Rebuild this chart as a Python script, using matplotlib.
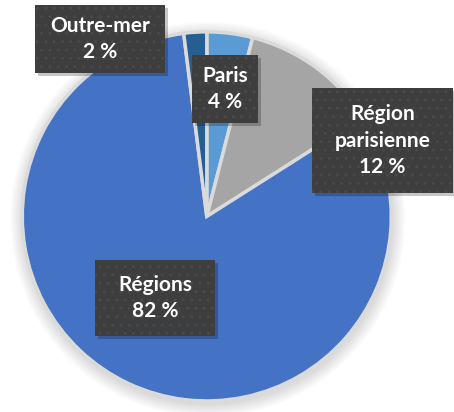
import matplotlib.pyplot as plt
from matplotlib.patches import Rectangle, Circle

# data
categories = ["Paris", "Région\nparisienne", "Régions", "Outre-mer"]
shares = [4, 12, 82, 2]
colors = ["#5B9BD5", "#A5A5A5", "#4472C4", "#255E91"]

# label boxes in pixel coords: (left, top, right, bottom)
label_boxes = {
    "Paris": (192, 55, 258, 123),
    "Région\nparisienne": (312, 88, 453, 193),
    "Régions": (95, 260, 215, 336),
    "Outre-mer": (35, 5, 165, 73),
}

plt.rcParams["hatch.linewidth"] = 0.8

W, H = 454, 412
fig = plt.figure(figsize=(W / 100, H / 100), dpi=100)
ax = fig.add_axes([0, 0, 1, 1])

R = 184.5
cx, cy = 206.8, H - 216.4

# soft shadow under the pie
for k in range(12, 0, -1):
    ax.add_patch(Circle((cx + 1, cy - 3), R + k * 1.1, color="black",
                        alpha=0.012, lw=0, zorder=0))
# light gray showing through the gaps near the centre
ax.add_patch(Circle((cx, cy), 40, color="#dcdcdc", lw=0, zorder=0.5))

ax.pie(shares, colors=colors, startangle=90, counterclock=False,
       radius=R, center=(cx, cy), explode=[10 / R] * len(shares),
       wedgeprops=dict(edgecolor="#dadada", linewidth=2.5))

ax.set_xlim(0, W)
ax.set_ylim(0, H)
ax.set_aspect("equal")
ax.axis("off")

for cat, val in zip(categories, shares):
    x0, y0, x1, y1 = label_boxes[cat]
    w, h = x1 - x0, y1 - y0
    # box shadow
    ax.add_patch(Rectangle((x0 + 3, H - y1 - 3), w, h, facecolor="black",
                           alpha=0.22, lw=0, zorder=4))
    ax.add_patch(Rectangle((x0, H - y1), w, h, facecolor="#3e3e3e",
                           edgecolor="#4a4a4a", lw=0, hatch="..", zorder=5))
    ax.text((x0 + x1) / 2, H - (y0 + y1) / 2, f"{cat}\n{val} %",
            ha="center", va="center", color="white", fontsize=15,
            fontweight="bold", family="Lato", linespacing=1.42, zorder=6)

fig.savefig("out.png", dpi=100)
